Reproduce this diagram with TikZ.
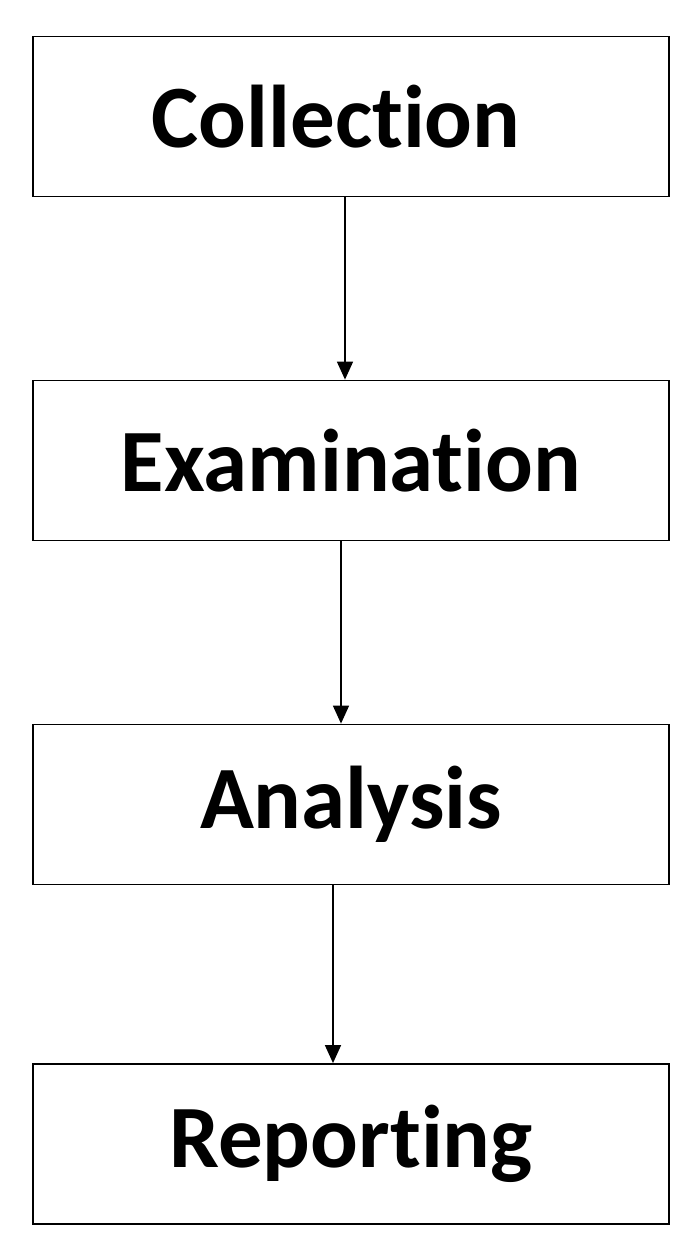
\documentclass[tikz,border=0pt]{standalone}
\usepackage{fontspec}
\setmainfont{Carlito}[Ligatures=NoCommon]
\usetikzlibrary{arrows.meta}
\begin{document}
\begin{tikzpicture}[x=1pt,y=-1pt,
  box/.style={draw,line width=1.8pt,minimum width=636pt,minimum height=160pt,inner sep=0pt,font=\fontsize{89}{100}\selectfont\bfseries},
  arr/.style={line width=1.5pt,-{Triangle[length=18pt,width=16pt]}}]
\useasboundingbox (0,0) rectangle (699,1250);
\node[box] (b1) at (351,116.5) {\hspace*{-30pt}Collection};
\node[box] (b2) at (351,460.5) {Examination};
\node[box] (b3) at (351,804.5) {Analysis};
\node[box] (b4) at (351,1144) {Reporting};
\draw[arr] (b1.south -| 345,0) -- (b2.north -| 345,0);
\draw[arr] (b2.south -| 341,0) -- (b3.north -| 341,0);
\draw[arr] (b3.south -| 333,0) -- (b4.north -| 333,0);
\end{tikzpicture}
\end{document}
